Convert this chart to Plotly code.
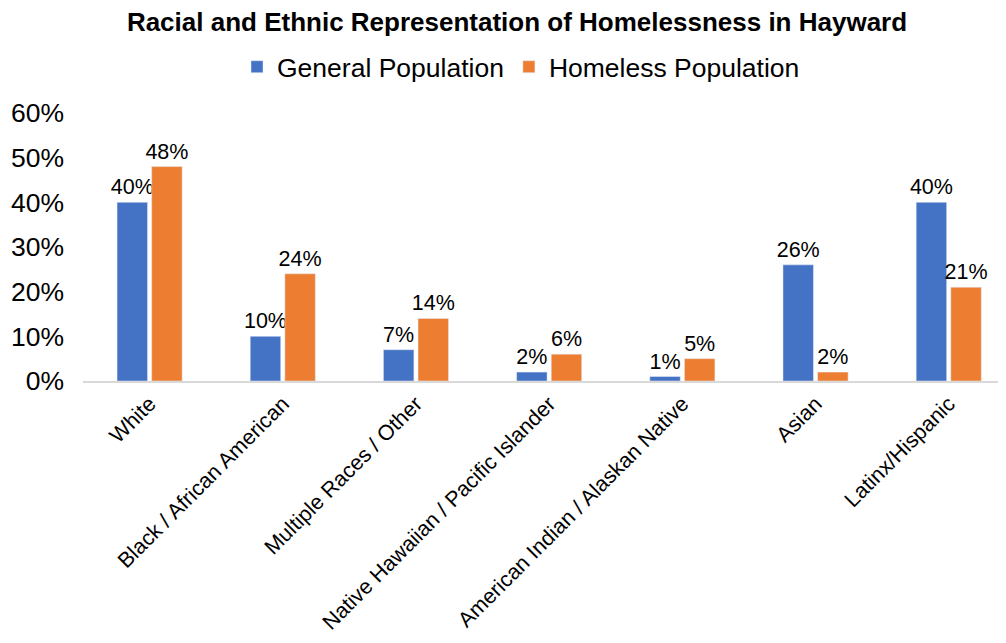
import plotly.graph_objects as go

categories = ["White", "Black / African American", "Multiple Races / Other",
              "Native Hawaiian / Pacific Islander", "American Indian / Alaskan Native",
              "Asian", "Latinx/Hispanic"]
general = [40, 10, 7, 2, 1, 26, 40]
homeless = [48, 24, 14, 6, 5, 2, 21]
tick_vals = [0, 10, 20, 30, 40, 50, 60]
tick_text = ["0%", "10%", "20%", "30%", "40%", "50%", "60%"]

FONT = "Liberation Sans, Arial, sans-serif"

fig = go.Figure()
fig.add_trace(go.Bar(x=categories, y=general, name="General Population",
                     marker_color="#4472C4", text=[f"{v}%" for v in general],
                     textposition="outside", constraintext="none",
                     textfont=dict(size=21.5, color="#000"), cliponaxis=False))
fig.add_trace(go.Bar(x=categories, y=homeless, name="Homeless Population",
                     marker_color="#ED7D31", text=[f"{v}%" for v in homeless],
                     textposition="outside", constraintext="none",
                     textfont=dict(size=21.5, color="#000"), cliponaxis=False))

# page body has an 8px margin, so figure coords = screen coords - 8
fig.update_layout(
    width=1006, height=643,
    margin=dict(l=75, r=8, t=105, b=270, autoexpand=False),
    paper_bgcolor="white", plot_bgcolor="white",
    font=dict(family=FONT, color="#000"),
    title=dict(text="<b>Racial and Ethnic Representation of Homelessness in Hayward</b>",
               x=509/1006, xanchor="center", y=1 - 14/643, yanchor="middle",
               font=dict(size=26, color="#000"), automargin=False),
    legend=dict(orientation="h", x=(521 - 83)/923, xanchor="center",
                y=(381 - 67)/268, yanchor="middle", font=dict(size=26.5), itemwidth=30,
                traceorder="normal"),
    barmode="group", bargap=0.48, bargroupgap=0.12,
    showlegend=True,
)
fig.update_xaxes(range=[-0.5, 6.43], tickangle=-45, tickfont=dict(size=21.5),
                 showline=True, linecolor="#d9d9d9", linewidth=1.5, ticks="",
                 showgrid=False, automargin=False)
fig.update_yaxes(range=[0, 60], tickvals=tick_vals, ticktext=tick_text,
                 tickfont=dict(size=26.5), showgrid=False, zeroline=False,
                 showline=False, ticks="", ticklabelstandoff=18, automargin=False)

fig.write_html("out.html")
